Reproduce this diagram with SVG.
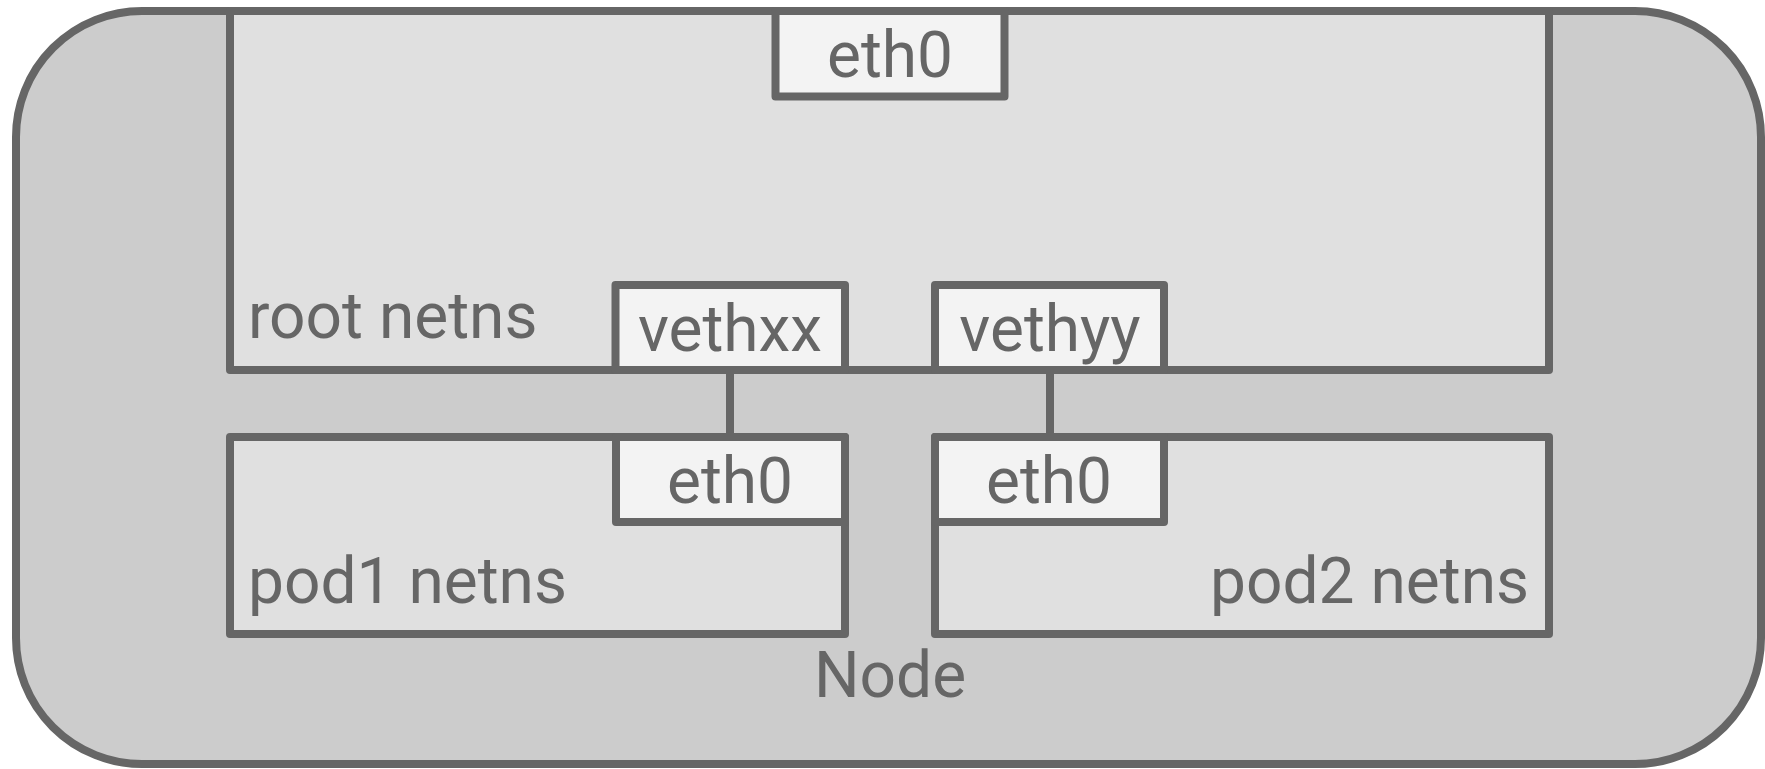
<svg xmlns="http://www.w3.org/2000/svg" width="1765" height="769" viewBox="0 0 1765 769">
<style>
  .box { stroke: #666666; stroke-width: 8; stroke-linejoin: round; }
  .outer { fill: #cccccc; }
  .ns { fill: #e0e0e0; }
  .if { fill: #f3f3f3; }
  .lbl { font-family: Roboto, "Liberation Sans", sans-serif; font-size: 64px; fill: #666666; }
  .mid { text-anchor: middle; }
  .end { text-anchor: end; }
  .conn { stroke: #666666; stroke-width: 8; fill: none; }
</style>
<g id="node">
  <rect class="box outer" x="16" y="11" width="1745" height="753" rx="126" ry="126"/>
  <text class="lbl mid" x="890" y="697">Node</text>
</g>
<g id="root-netns">
  <rect class="box ns" x="230" y="11" width="1319" height="359"/>
  <text class="lbl" x="248" y="338">root netns</text>
</g>
<g id="pod1-netns">
  <rect class="box ns" x="230" y="437" width="615" height="197"/>
  <text class="lbl" x="248" y="603">pod1 netns</text>
</g>
<g id="pod2-netns">
  <rect class="box ns" x="935" y="437" width="614" height="197"/>
  <text class="lbl end" x="1529" y="603">pod2 netns</text>
</g>
<g id="connectors">
  <line class="conn" x1="730" y1="370" x2="730" y2="437"/>
  <line class="conn" x1="1050" y1="370" x2="1050" y2="437"/>
</g>
<g id="root-eth0">
  <rect class="box if" x="775.5" y="11" width="229" height="85.5"/>
  <text class="lbl mid" x="890" y="77">eth0</text>
</g>
<g id="vethxx">
  <rect class="box if" x="615.5" y="285" width="229.5" height="85"/>
  <text class="lbl mid" x="730" y="351">vethxx</text>
</g>
<g id="vethyy">
  <rect class="box if" x="935" y="285" width="229" height="85"/>
  <text class="lbl mid" x="1050" y="351">vethyy</text>
</g>
<g id="pod1-eth0">
  <rect class="box if" x="616" y="437" width="229" height="85"/>
  <text class="lbl mid" x="730" y="503">eth0</text>
</g>
<g id="pod2-eth0">
  <rect class="box if" x="935" y="437" width="229" height="85"/>
  <text class="lbl mid" x="1049" y="503">eth0</text>
</g>
</svg>
